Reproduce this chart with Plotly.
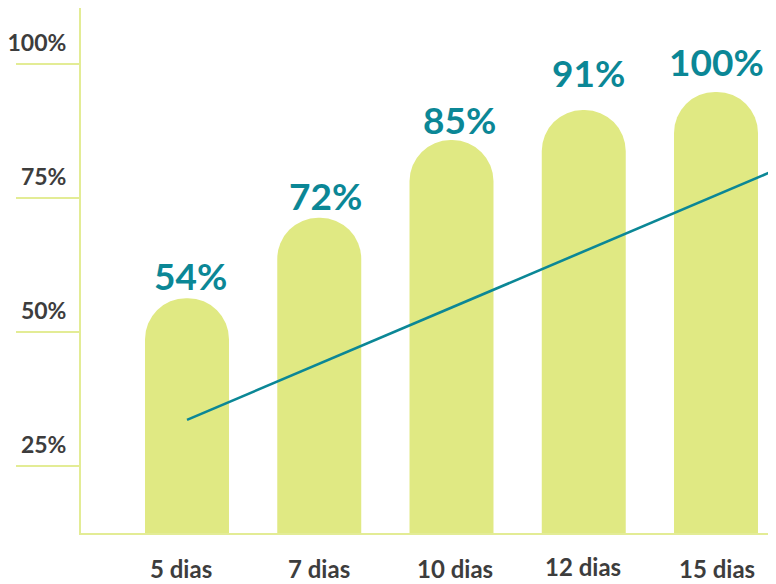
import plotly.graph_objects as go

# ---- data ----
categories = ["5 dias", "7 dias", "10 dias", "12 dias", "15 dias"]
value_labels = ["54%", "72%", "85%", "91%", "100%"]
bar_heights = [56.3, 71.3, 85.8, 91.4, 94.8]      # bar tops, read on the y scale
trend_x = [0, 4.6]
trend_y = [33.6, 81.8]
y_ticks = [25, 50, 75, 100]
y_tick_text = ["25%", "50%", "75%", "100%"]

# ---- style ----
BAR = "#e0e983"
TEAL = "#0b8796"
AXIS = "#e3ec95"
GREY = "#3d3d3d"
FONT = "Lato"
label_center_offset = [23, 22, 21, 38, 30]   # px above bar top
label_xshift = [3, 6, 8, 5, 0]
xlabel_offset = [-35, -35, -35, -33, -35]    # px below baseline
xlabel_xshift = [-6, 0, 3, -1, 1]

xs = list(range(len(categories)))

fig = go.Figure()
fig.add_trace(go.Bar(
    x=xs, y=bar_heights, width=0.635,
    marker=dict(color=BAR, cornerradius="50%", line=dict(width=0)),
    hoverinfo="skip",
))
fig.add_trace(go.Scatter(
    x=trend_x, y=trend_y, mode="lines",
    line=dict(color=TEAL, width=2.6), hoverinfo="skip",
))

for i, (lab, h, off, xo) in enumerate(zip(value_labels, bar_heights, label_center_offset, label_xshift)):
    fig.add_annotation(x=i, y=h, text=f"<b>{lab}</b>", showarrow=False,
                       yanchor="middle", yshift=off, xshift=xo,
                       font=dict(family=FONT, size=37, color=TEAL))

for i, (cat, off, xo) in enumerate(zip(categories, xlabel_offset, xlabel_xshift)):
    fig.add_annotation(x=i, y=0, yref="paper", text=f"<b>{cat}</b>", showarrow=False,
                       yanchor="middle", yshift=off, xshift=xo,
                       font=dict(family=FONT, size=24, color=GREY))

fig.update_layout(
    width=768, height=576,
    margin=dict(l=73, r=0, t=0, b=51),
    paper_bgcolor="white", plot_bgcolor="white",
    showlegend=False,
    xaxis=dict(range=[-0.8015, 4.4537], showgrid=False, zeroline=False,
               showticklabels=False, ticks="", showline=True,
               linecolor=AXIS, linewidth=2, automargin=False, fixedrange=True),
    yaxis=dict(range=[12.5, 110.45], showgrid=False, zeroline=False,
               tickvals=y_ticks, ticktext=[f"<b>{t}</b>" for t in y_tick_text],
               ticks="outside", ticklen=63, tickcolor=AXIS, tickwidth=2,
               ticklabelstandoff=-55, ticklabelshift=-21,
               tickfont=dict(family=FONT, size=23, color=GREY),
               showline=True, linecolor=AXIS, linewidth=2,
               automargin=False, fixedrange=True),
)

fig.write_html("out.html")
